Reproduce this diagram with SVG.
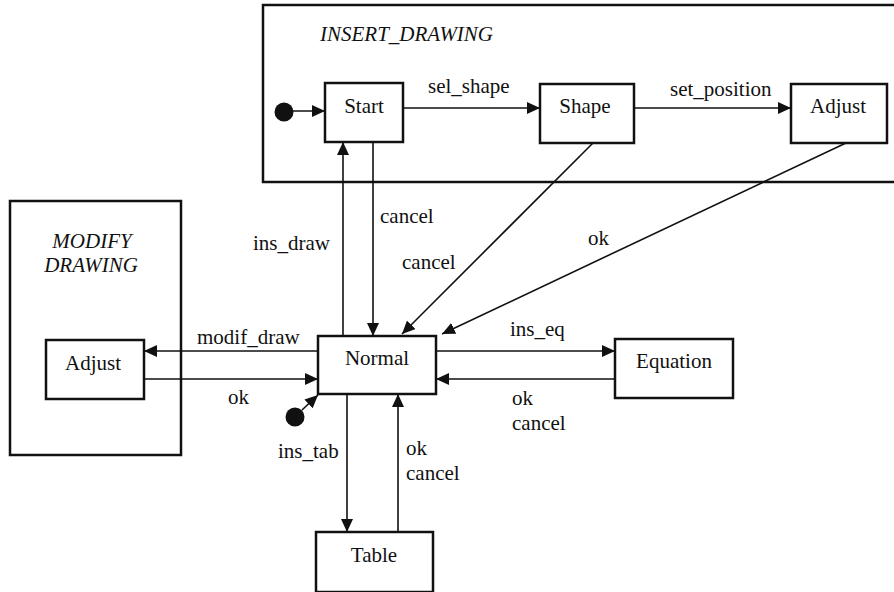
<svg xmlns="http://www.w3.org/2000/svg" width="894" height="592" viewBox="0 0 894 592">
  <style>
    text { font-family: "Times New Roman", "Liberation Serif", "DejaVu Serif", serif; font-size: 21px; fill: #111; }
    .title { font-style: italic; }
    .state { fill: #fff; stroke: #111; stroke-width: 2.5; }
    .super { fill: none; stroke: #111; stroke-width: 2.5; }
    .edge { fill: none; stroke: #111; stroke-width: 1.6; marker-end: url(#arrow); }
    .mid { text-anchor: middle; }
  </style>
  <defs>
    <marker id="arrow" markerUnits="userSpaceOnUse" markerWidth="14" markerHeight="12" refX="13" refY="6" orient="auto">
      <path d="M0,0 L13,6 L0,12 z" fill="#111"/>
    </marker>
  </defs>

  <rect width="894" height="592" fill="#fff"/>

  <!-- composite state: INSERT_DRAWING -->
  <g id="insert_drawing">
    <rect class="super" x="263" y="5" width="650" height="177"/>
    <text class="title" x="320" y="41">INSERT_DRAWING</text>
  </g>

  <!-- composite state: MODIFY DRAWING -->
  <g id="modify_drawing">
    <rect class="super" x="10" y="201" width="171" height="254"/>
    <text class="title mid" x="92" y="248">MODIFY</text>
    <text class="title mid" x="91" y="272">DRAWING</text>
  </g>

  <g id="start">
    <rect class="state" x="325" y="83" width="78" height="59"/>
    <text class="mid" x="364" y="113">Start</text>
  </g>
  <g id="shape">
    <rect class="state" x="540" y="84" width="94" height="59"/>
    <text class="mid" x="585" y="113">Shape</text>
  </g>
  <g id="adjust_insert">
    <rect class="state" x="791" y="84" width="96" height="59"/>
    <text class="mid" x="838" y="113">Adjust</text>
  </g>
  <g id="adjust_modify">
    <rect class="state" x="46" y="340" width="98" height="59"/>
    <text class="mid" x="93" y="370">Adjust</text>
  </g>
  <g id="normal">
    <rect class="state" x="318" y="336" width="118" height="58"/>
    <text class="mid" x="377" y="365">Normal</text>
  </g>
  <g id="equation">
    <rect class="state" x="615" y="339" width="118" height="59"/>
    <text class="mid" x="674" y="368">Equation</text>
  </g>
  <g id="table">
    <rect class="state" x="316" y="532" width="117" height="60"/>
    <text class="mid" x="374" y="562">Table</text>
  </g>

  <!-- initial pseudo-states -->
  <g id="init_insert">
    <circle cx="284" cy="112" r="9.5" fill="#111"/>
  </g>
  <g id="init_main">
    <circle cx="295" cy="417" r="9.5" fill="#111"/>
  </g>

  <!-- transitions -->
  <g id="connectors">
    <line class="edge" x1="292" y1="111" x2="325" y2="111"/>
    <line class="edge" x1="302" y1="410" x2="318" y2="395"/>

    <line class="edge" x1="403" y1="108" x2="540" y2="108"/>
    <text x="428" y="93">sel_shape</text>
    <line class="edge" x1="634" y1="108" x2="791" y2="108"/>
    <text x="670" y="96">set_position</text>

    <line class="edge" x1="343" y1="336" x2="343" y2="142"/>
    <text x="253" y="250">ins_draw</text>
    <line class="edge" x1="373" y1="142" x2="373" y2="336"/>
    <text x="380" y="223">cancel</text>

    <line class="edge" x1="593" y1="143" x2="402" y2="334"/>
    <text x="402" y="269">cancel</text>
    <line class="edge" x1="846" y1="143" x2="442" y2="334"/>
    <text x="588" y="245">ok</text>

    <line class="edge" x1="318" y1="351" x2="144" y2="351"/>
    <text x="197" y="344">modif_draw</text>
    <line class="edge" x1="144" y1="379" x2="318" y2="379"/>
    <text x="228" y="404">ok</text>

    <line class="edge" x1="436" y1="351" x2="615" y2="351"/>
    <text x="510" y="336">ins_eq</text>
    <line class="edge" x1="615" y1="379" x2="436" y2="379"/>
    <text x="512" y="405">ok</text>
    <text x="512" y="430">cancel</text>

    <line class="edge" x1="347" y1="394" x2="347" y2="532"/>
    <text x="278" y="458">ins_tab</text>
    <line class="edge" x1="398" y1="532" x2="398" y2="394"/>
    <text x="406" y="455">ok</text>
    <text x="406" y="480">cancel</text>
  </g>
</svg>
